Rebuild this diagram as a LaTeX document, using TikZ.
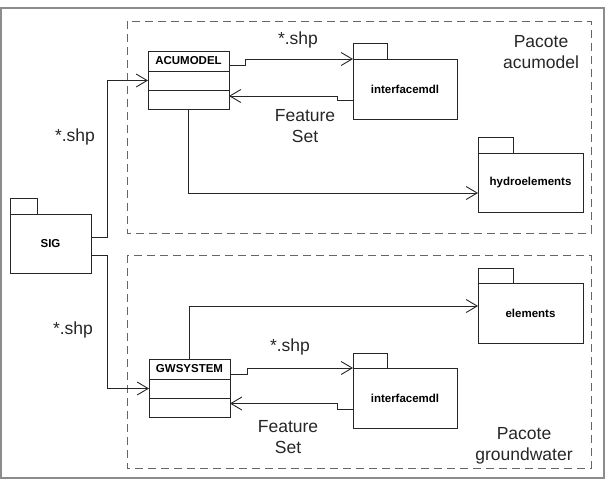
\documentclass[tikz,border=0pt]{standalone}
\usepackage{fontspec}
\setmainfont{Liberation Sans}
\usetikzlibrary{arrows.meta,positioning}

\begin{document}
\begin{tikzpicture}[x=1pt,y=-1pt,line width=0.9pt,
  dep/.style={draw=black!85,-{Straight Barb[length=11pt,width=13pt]}},
  pkg/.style={draw=black!85,minimum width=104pt,minimum height=60pt,inner sep=0pt,outer sep=0pt,
    font=\bfseries\fontsize{11.5}{13}\selectfont},
  clshead/.style={draw=black!85,minimum width=81pt,minimum height=20pt,inner sep=0pt,outer sep=0pt,
    font=\bfseries\fontsize{11.5}{13}\selectfont},
  clscell/.style={draw=black!85,minimum width=81pt,minimum height=19pt,inner sep=0pt,outer sep=0pt},
  frame/.style={draw=black!60,dash pattern=on 8pt off 5pt},
  lbl/.style={align=center,text=black!85,font=\fontsize{17.5}{21}\selectfont}]
  \useasboundingbox (0,0) rectangle (612,480);
  \draw[black!45,line width=1.5pt] (1,8) rectangle (604,478);

  % Pacote acumodel
  \draw[frame] (127,21) rectangle (591,233);
  \node[lbl] (pkg acu) at (541,52) {Pacote\\acumodel};
  \node[clshead] (acu) at (188.5,61) {ACUMODEL};
  \node[clscell, below=0pt of acu] (acu attr) {};
  \node[clscell, below=0pt of acu attr] (acu ops) {};
  \node[pkg] (ifa) at (405,89) {interfacemdl};
  \node[pkg, minimum width=105pt, minimum height=59pt] (hydro) at (530.5,182.5) {hydroelements};

  % Pacote groundwater
  \draw[frame] (127,255) rectangle (591,468);
  \node[lbl] (pkg gw) at (524,446) {Pacote\\groundwater};
  \node[clshead] (gw) at (189.5,369) {GWSYSTEM};
  \node[clscell, below=0pt of gw] (gw attr) {};
  \node[clscell, below=0pt of gw attr] (gw ops) {};
  \node[pkg] (ifb) at (405,398) {interfacemdl};
  \node[pkg, minimum width=105pt] (elem) at (530.5,313) {elements};

  % SIG
  \node[pkg, minimum width=81pt, minimum height=59pt] (sig) at (50.5,243.5) {SIG};

  % package tabs
  \draw[black!85] (sig.north west) rectangle ++(27,-16);
  \draw[black!85] (ifa.north west) rectangle ++(34,-16);
  \draw[black!85] (hydro.north west) rectangle ++(35,-16);
  \draw[black!85] (elem.north west) rectangle ++(35,-15);
  \draw[black!85] (ifb.north west) rectangle ++(34,-15);

  % Connecting edges
  \draw[dep] ([yshift=6.5pt]sig.east) -- ++(16,0) |- (acu attr.west);
  \draw[dep] ([yshift=-11.5pt]sig.east) -- ++(16,0) |- (gw attr.west);
  \draw[dep] ([yshift=-4pt]acu.east) -- ++(16,0) |- (ifa.north west);
  \draw[dep] ([yshift=-11pt]ifa.west) -- ++(-16,0) |- ([yshift=3.5pt]acu ops.east);
  \draw[dep] (acu ops.south) |- ([yshift=-10.5pt]hydro.west);
  \draw[dep] (gw.north) |- ([yshift=7pt]elem.west);
  \draw[dep] ([yshift=-5pt]gw.east) -- ++(17,0) |- (ifb.north west);
  \draw[dep] ([yshift=-11pt]ifb.west) -- ++(-16,0) |- ([yshift=4pt]gw ops.east);

  \node[lbl] (shp sig acu) at (75,137) {*.shp};
  \node[lbl] (shp sig gw) at (73,330) {*.shp};
  \node[lbl] (shp acu) at (298,40) {*.shp};
  \node[lbl] (fs acu) at (305,126) {Feature\\Set};
  \node[lbl] (shp gw) at (290,347) {*.shp};
  \node[lbl] (fs gw) at (288,437) {Feature\\Set};
\end{tikzpicture}
\end{document}
